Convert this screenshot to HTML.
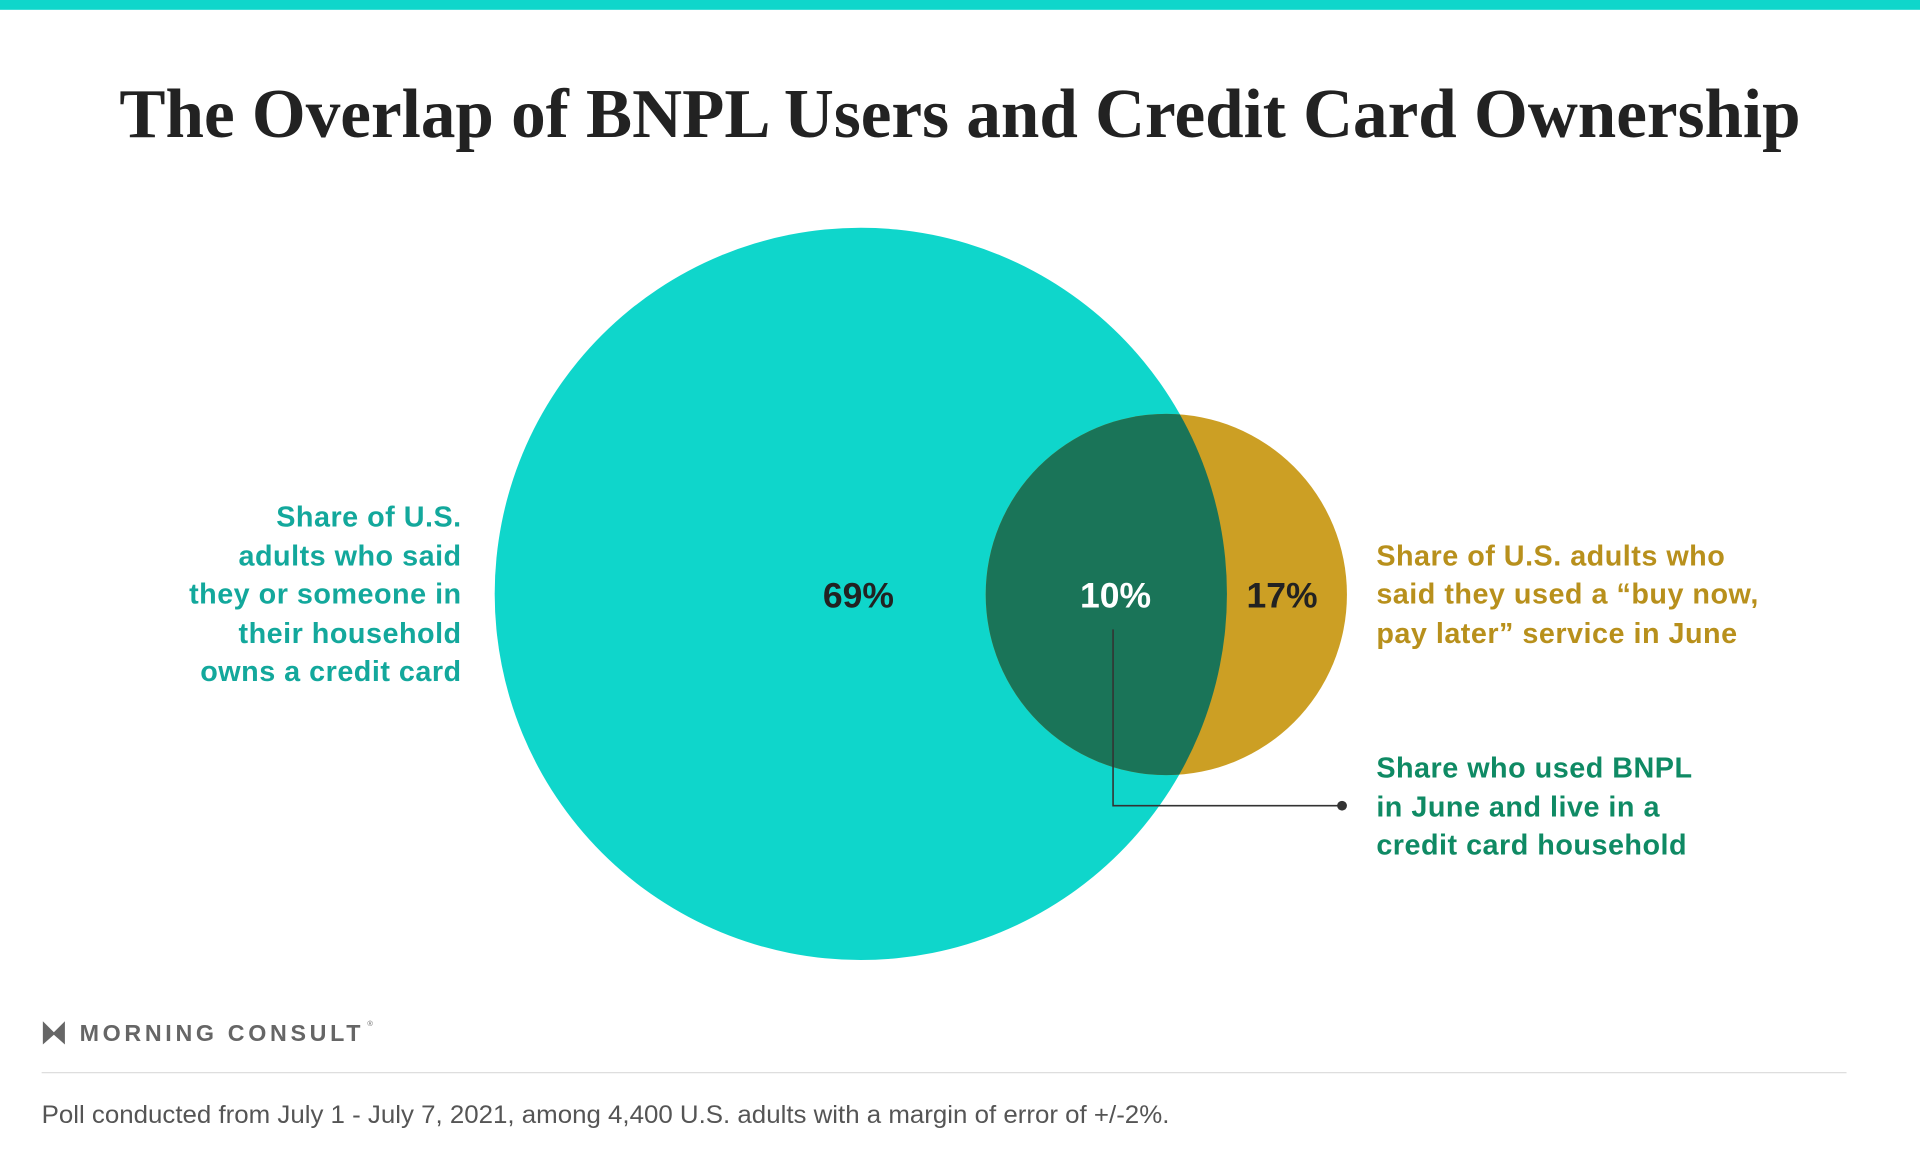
<!DOCTYPE html>
<html><head><meta charset="utf-8"><style>
html,body{margin:0;padding:0;background:#fff;width:1920px;height:1152px;overflow:hidden}
svg{display:block}
.s{font-family:"Liberation Sans",sans-serif;font-weight:bold}
</style></head><body>
<svg width="1920" height="1152" viewBox="0 0 1568 940.8" preserveAspectRatio="none">
<rect x="0" y="0" width="1568" height="8" fill="#0fd6cb"/>
<text x="784" y="112" text-anchor="middle" font-family="Liberation Serif,serif" font-weight="bold" font-size="57" fill="#222" textLength="1373" lengthAdjust="spacingAndGlyphs">The Overlap of BNPL Users and Credit Card Ownership</text>
<circle cx="703" cy="485" r="299" fill="#0fd6cb"/>
<circle cx="952.5" cy="485.5" r="147.5" fill="#cc9f24"/>
<clipPath id="c"><circle cx="703" cy="485" r="299"/></clipPath>
<circle cx="952.5" cy="485.5" r="147.5" fill="#1a7458" clip-path="url(#c)"/>
<g class="s" font-size="29" text-anchor="middle">
<text x="701" y="496" fill="#222">69%</text>
<text x="911" y="496" fill="#fff">10%</text>
<text x="1047" y="496" fill="#222">17%</text>
</g>
<polyline points="909,514 909,658 1096,658" fill="none" stroke="#333" stroke-width="1.3"/>
<circle cx="1096" cy="658" r="4" fill="#333"/>
<g class="s" font-size="23.5" fill="#13a89c" text-anchor="end" letter-spacing="0.4">
<text x="377" y="430">Share of U.S.</text>
<text x="377" y="462">adults who said</text>
<text x="377" y="493">they or someone in</text>
<text x="377" y="525">their household</text>
<text x="377" y="556">owns a credit card</text>
</g>
<g class="s" font-size="23.5" fill="#b8901c" letter-spacing="0.4">
<text x="1124" y="462">Share of U.S. adults who</text>
<text x="1124" y="493">said they used a “buy now,</text>
<text x="1124" y="525">pay later” service in June</text>
</g>
<g class="s" font-size="23.5" fill="#0f8a64" letter-spacing="0.4">
<text x="1124" y="635">Share who used BNPL</text>
<text x="1124" y="667">in June and live in a</text>
<text x="1124" y="698">credit card household</text>
</g>
<path d="M35,834 L44,843 L53,834 L53,853 L44,845 L35,853 Z" fill="#666"/>
<text x="65" y="850" font-family="Liberation Sans,sans-serif" font-weight="bold" font-size="19" fill="#666" letter-spacing="3">MORNING CONSULT</text>
<text x="300" y="838" font-family="Liberation Sans,sans-serif" font-size="6" fill="#666">®</text>
<rect x="34" y="875.5" width="1474" height="1" fill="#ddd"/>
<text x="34" y="917" font-family="Liberation Sans,sans-serif" font-size="20.5" fill="#555" textLength="921" lengthAdjust="spacingAndGlyphs">Poll conducted from July 1 - July 7, 2021, among 4,400 U.S. adults with a margin of error of +/-2%.</text>
</svg>
</body></html>
